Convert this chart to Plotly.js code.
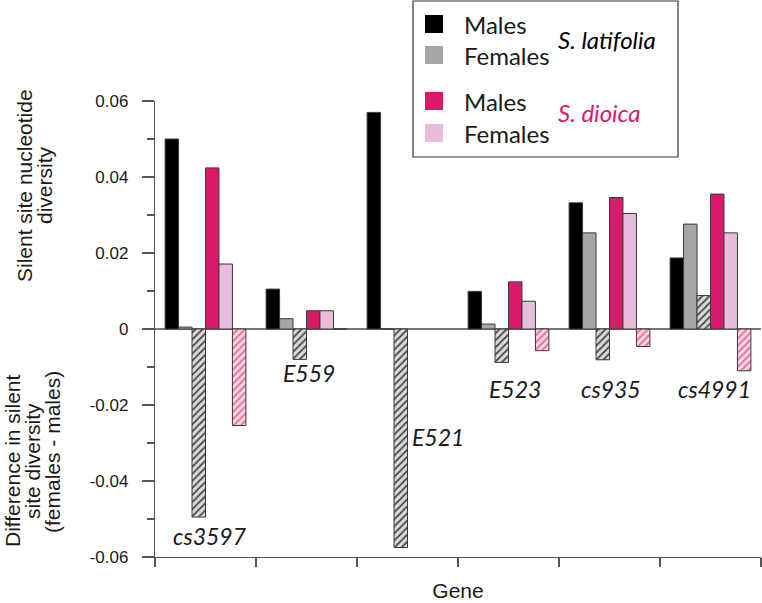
<!DOCTYPE html>
<html>
<head>
<meta charset="utf-8">
<script src="https://cdn.plot.ly/plotly-3.0.1.min.js"></script>
<style>html,body{margin:0;padding:0;background:#fff;}#chart{width:762px;height:603px;}</style>
</head>
<body>
<div id="chart"></div>
<script>
// ---- data ----
const genes = ['cs3597', 'E559', 'E521', 'E523', 'cs935', 'cs4991'];
const latMales   = [0.0500, 0.0105, 0.0570, 0.0099, 0.0332, 0.0187];
const latFemales = [0.0005, 0.0027, 0.0000, 0.0013, 0.0253, 0.0276];
const latDiff    = [-0.0495, -0.0080, -0.0575, -0.0088, -0.0081, 0.0088];
const dioMales   = [0.0424, 0.0048, null, 0.0124, 0.0346, 0.0355];
const dioFemales = [0.0171, 0.0048, null, 0.0073, 0.0304, 0.0253];
const dioDiff    = [-0.0254, 0.0000, null, -0.0057, -0.0046, -0.0110];
const yTicks = [-0.06, -0.04, -0.02, 0, 0.02, 0.04, 0.06];
const yTickText = ['-0.06', '-0.04', '-0.02', '0', '0.02', '0.04', '0.06'];
const legendLabels = ['Males', 'Females', 'Males', 'Females'];
const speciesLabels = ['S. latifolia', 'S. dioica'];
const upperTitleLines = ['Silent site nucleotide', 'diversity'];
const lowerTitleLines = ['Difference in silent', 'site diversity', '(females - males)'];
const xTitle = 'Gene';

// ---- styles ----
const C = {
  latM: '#000000', latF: '#a6a6a6', dioM: '#d91a6b', dioF: '#e8bcdc',
  hatchGrayBg: '#dadada', hatchGrayFg: '#4a4a4a',
  hatchPinkBg: '#fcd6e6', hatchPinkFg: '#e56c9d',
  outline: '#3a3a3a', axis: '#555555', text: '#1a1a1a'
};
const W = 762, H = 603, ML = 155, MR = 1, MT = 101, MB = 46;
const PW = W - ML - MR, PH = H - MT - MB;
const pX = px => (px - ML) / PW;
const pY = py => 1 - (py - MT) / PH;

function solid(y, color, name) {
  return { type: 'bar', x: genes, y: y, name: name, showlegend: false,
    marker: { color: color, line: { color: C.outline, width: 1 } } };
}
function hatched(y, bg, fg, name) {
  return { type: 'bar', x: genes, y: y, name: name, showlegend: false,
    marker: { color: bg, line: { color: C.outline, width: 1 },
      pattern: { shape: '/', fillmode: 'replace', bgcolor: bg, fgcolor: fg, size: 5, solidity: 0.35 } } };
}

const traces = [
  solid(latMales, C.latM, 'S. latifolia males'),
  solid(latFemales, C.latF, 'S. latifolia females'),
  hatched(latDiff, C.hatchGrayBg, C.hatchGrayFg, 'S. latifolia females - males'),
  solid(dioMales, C.dioM, 'S. dioica males'),
  solid(dioFemales, C.dioF, 'S. dioica females'),
  hatched(dioDiff, C.hatchPinkBg, C.hatchPinkFg, 'S. dioica females - males')
];

const geneFont = { family: 'Lato, "Open Sans", sans-serif', size: 23, color: C.text, style: 'italic' };
// gene label positions (category index, value units)
const genePos = [
  { x: 0.045, y: -0.0544, a: 'center' },
  { x: 1.025, y: -0.0117, a: 'center' },
  { x: 2.025, y: -0.0283, a: 'left' },
  { x: 3.06, y: -0.0158, a: 'center' },
  { x: 4.01, y: -0.0158, a: 'center' },
  { x: 5.04, y: -0.0158, a: 'center' }
];
const annotations = genes.map((g, i) => ({
  xref: 'x', yref: 'y', x: genePos[i].x, y: genePos[i].y, text: g, showarrow: false,
  xanchor: genePos[i].a, yanchor: 'middle', font: geneFont
}));

// y axis titles, one annotation per line for tight spacing
const titleFont = { family: '"Liberation Sans", Arial, sans-serif', size: 21, color: C.text };
const upperPos = [{ x: 24, y: 186 }, { x: 44, y: 185 }];
const lowerPos = [{ x: 12, y: 461 }, { x: 32, y: 461 }, { x: 52, y: 452 }];
upperTitleLines.forEach((t, i) => annotations.push({ xref: 'paper', yref: 'paper',
  x: pX(upperPos[i].x), y: pY(upperPos[i].y), textangle: -90, text: t, showarrow: false,
  xanchor: 'center', yanchor: 'middle', font: titleFont }));
lowerTitleLines.forEach((t, i) => annotations.push({ xref: 'paper', yref: 'paper',
  x: pX(lowerPos[i].x), y: pY(lowerPos[i].y), textangle: -90, text: t, showarrow: false,
  xanchor: 'center', yanchor: 'middle', font: titleFont }));

// custom legend
const legFont = { family: 'Lato, "Open Sans", sans-serif', size: 24, color: C.text };
const legColors = [C.latM, C.latF, C.dioM, C.dioF];
const legY = [24, 55, 101, 133];
const shapes = [{ type: 'rect', xref: 'paper', yref: 'paper', x0: pX(413), x1: pX(678), y0: pY(157), y1: pY(1),
  line: { color: '#333', width: 1.2 }, fillcolor: 'rgba(255,255,255,1)' }];
legColors.forEach((c, i) => {
  shapes.push({ type: 'rect', xref: 'paper', yref: 'paper', x0: pX(425), x1: pX(443),
    y0: pY(legY[i] + 9), y1: pY(legY[i] - 9), line: { width: 0 }, fillcolor: c });
  annotations.push({ xref: 'paper', yref: 'paper', x: pX(462), y: pY(legY[i]), text: legendLabels[i],
    showarrow: false, xanchor: 'left', yanchor: 'middle', font: legFont });
});
annotations.push({ xref: 'paper', yref: 'paper', x: pX(556), y: pY(40), text: speciesLabels[0],
  showarrow: false, xanchor: 'left', yanchor: 'middle', font: Object.assign({}, legFont, { style: 'italic', color: '#000' }) });
annotations.push({ xref: 'paper', yref: 'paper', x: pX(556), y: pY(113), text: speciesLabels[1],
  showarrow: false, xanchor: 'left', yanchor: 'middle', font: Object.assign({}, legFont, { style: 'italic', color: C.dioM }) });

const layout = {
  width: W, height: H,
  margin: { l: ML, r: MR, t: MT, b: MB, pad: 0 },
  paper_bgcolor: '#fff', plot_bgcolor: '#fff',
  barmode: 'group', bargap: 0.2, bargroupgap: 0,
  showlegend: false,
  font: { family: '"Liberation Sans", Arial, sans-serif', color: C.text },
  xaxis: {
    type: 'category', tickson: 'boundaries', showticklabels: false,
    ticks: 'outside', ticklen: 9, tickcolor: C.axis, tickwidth: 1.2,
    showline: true, linecolor: C.axis, linewidth: 1.2, showgrid: false, zeroline: false,
    range: [-0.5, 5.5],
    title: { text: xTitle, font: { size: 21, color: C.text }, standoff: 26 }
  },
  yaxis: {
    range: [-0.06, 0.06], tickvals: yTicks, ticktext: yTickText,
    ticks: 'outside', ticklen: 12, tickcolor: C.axis, tickwidth: 1.2,
    minor: { dtick: 0.01, tick0: 0, ticks: 'outside', ticklen: 7, tickcolor: C.axis, tickwidth: 1.2, showgrid: false },
    showline: true, linecolor: C.axis, linewidth: 1.2, showgrid: false,
    zeroline: true, zerolinecolor: '#777', zerolinewidth: 1.2,
    tickfont: { size: 17, color: C.text }, ticklabelstandoff: 10
  },
  annotations: annotations,
  shapes: shapes
};

Plotly.newPlot('chart', traces, layout, { displayModeBar: false, staticPlot: true });
</script>
</body>
</html>
